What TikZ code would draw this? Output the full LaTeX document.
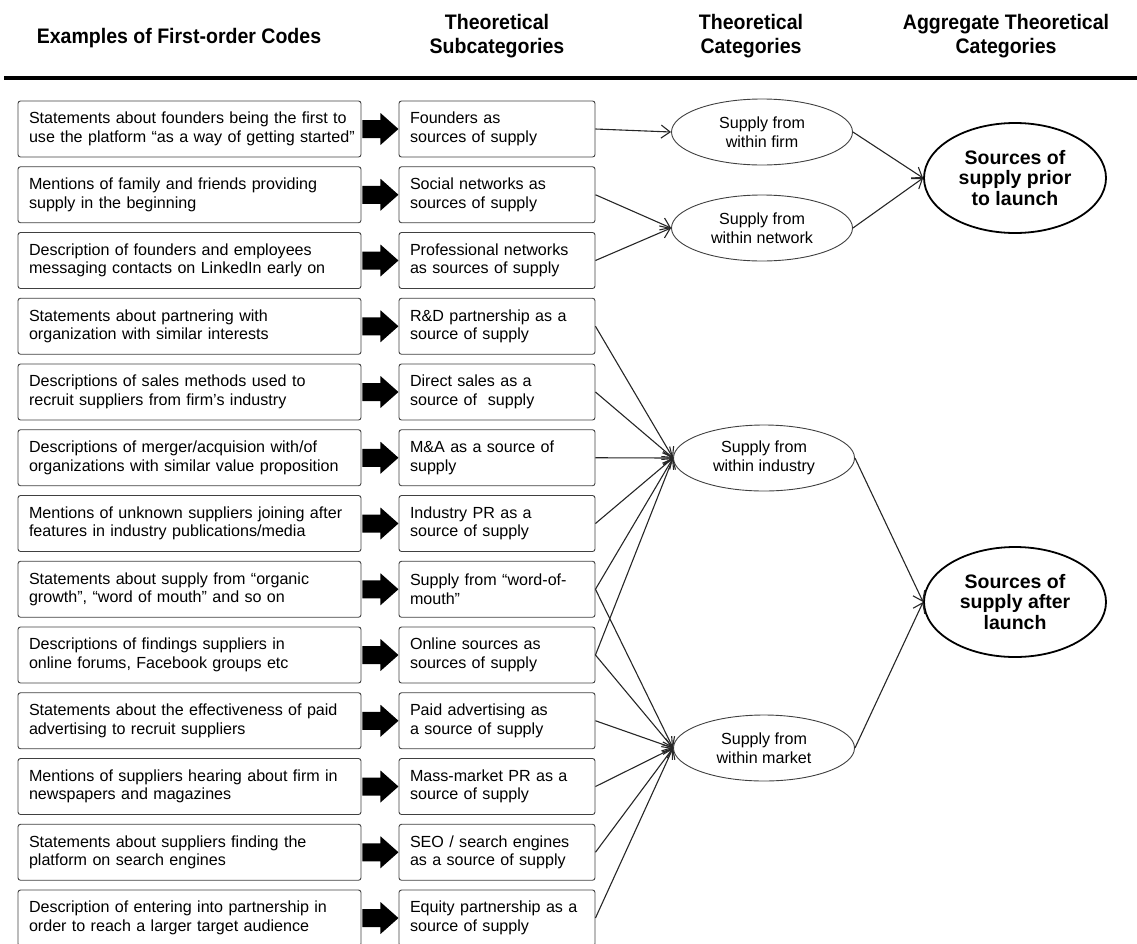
\documentclass[tikz,border=0pt]{standalone}
\usepackage{fontspec}
\setmainfont{Liberation Sans}
\newfontfamily\hdrfont[FakeStretch=0.93]{Liberation Sans}
\usetikzlibrary{arrows.meta,shapes.geometric}
\tikzset{
  boxbase/.style={draw=black!75, line width=0.9pt, rounded corners=2.5pt,
    minimum height=56pt, inner ysep=0pt, inner xsep=11pt, align=left,
    font=\fontsize{16.1}{18.6}\selectfont},
  lbox/.style={boxbase, minimum width=343pt, text width=321pt},
  mbox/.style={boxbase, minimum width=196pt, text width=174pt},
  catell/.style={ellipse, draw=black!75, line width=0.9pt, minimum width=181pt,
    minimum height=66pt, inner sep=0pt, align=center,
    font=\fontsize{16.1}{18.6}\selectfont},
  aggell/.style={ellipse, draw=black, line width=1.8pt, minimum width=182pt,
    minimum height=110pt, inner sep=0pt, align=center,
    font=\bfseries\fontsize{19.5}{20.7}\selectfont},
  hdr/.style={inner sep=0pt, align=center,
    font=\hdrfont\bfseries\fontsize{21}{23.3}\selectfont},
  conn/.style={draw=black!85, line width=1.1pt,
    -{Straight Barb[length=9pt,width=13pt]}},
  bigarrow/.style={fill=black}
}
\newcommand{\mkrow}[4]{%
  \node[lbox] (L#1) at (189.5,#2) {#3};
  \node[mbox] (M#1) at (497,#2) {#4};
  \fill[bigarrow] (L#1.east) ++(1,-9) -- ++(18,0) -- ++(0,-7) -- ++(18,16)
    -- ++(-18,16) -- ++(0,-7) -- ++(-18,0) -- cycle;
}
\begin{document}
\begin{tikzpicture}[x=1pt,y=-1pt]
\useasboundingbox (0,0) rectangle (1137,943);
\clip (0,0) rectangle (1137,943);

% header
\node[hdr] (h1) at (179,38) {Examples of First-order Codes};
\node[hdr] (h2) at (497,36) {Theoretical\\Subcategories};
\node[hdr] (h3) at (751,36) {Theoretical\\Categories};
\node[hdr] (h4) at (1006,36) {Aggregate Theoretical\\Categories};
\coordinate (ruleL) at (4,78);
\coordinate (ruleR) at (1137,78);
\draw[line width=4pt] (ruleL) -- (ruleR);

% rows
\mkrow{1}{129}{Statements about founders being the first to\\\mbox{use the platform “as a way of getting started”}}{Founders as\\sources of supply}
\mkrow{2}{194.75}{Mentions of family and friends providing\\supply in the beginning}{Social networks as\\sources of supply}
\mkrow{3}{260.5}{Description of founders and employees\\messaging contacts on LinkedIn early on}{Professional networks\\as sources of supply}
\mkrow{4}{326.25}{Statements about partnering with\\organization with similar interests}{R\&D partnership as a\\source of supply}
\mkrow{5}{392}{Descriptions of sales methods used to\\recruit suppliers from firm’s industry}{Direct sales as a\\source of \ supply}
\mkrow{6}{457.75}{Descriptions of merger/acquision with/of\\\mbox{organizations with similar value proposition}}{M\&A as a source of\\supply}
\mkrow{7}{523.5}{\mbox{Mentions of unknown suppliers joining after}\\features in industry publications/media}{Industry PR as a\\source of supply}
\mkrow{8}{589.25}{Statements about supply from “organic\\growth”, “word of mouth” and so on}{Supply from “word-of-\\mouth”}
\mkrow{9}{655}{Descriptions of findings suppliers in\\online forums, Facebook groups etc}{Online sources as\\sources of supply}
\mkrow{10}{720.75}{\mbox{Statements about the effectiveness of paid}\\advertising to recruit suppliers}{Paid advertising as\\a source of supply}
\mkrow{11}{786.5}{\mbox{Mentions of suppliers hearing about firm in}\\newspapers and magazines}{Mass-market PR as a\\source of supply}
\mkrow{12}{852.25}{Statements about suppliers finding the\\platform on search engines}{SEO / search engines\\as a source of supply}
\mkrow{13}{918}{\mbox{Description of entering into partnership in}\\order to reach a larger target audience}{Equity partnership as a\\source of supply}

% categories
\node[catell] (firm) at (762,132) {Supply from\\within firm};
\node[catell] (network) at (762,228) {Supply from\\within network};
\node[catell] (industry) at (764,458) {Supply from\\within industry};
\node[catell] (market) at (764,748) {Supply from\\within market};

% aggregate
\node[aggell] (prior) at (1015,178) {Sources of\\supply prior\\to launch};
\node[aggell] (after) at (1015,602) {Sources of\\supply after\\launch};

% connectors
\draw[conn] (M1.east) -- (firm.west);
\draw[conn] (M2.east) -- (network.west);
\draw[conn] (M3.east) -- (network.west);
\foreach \i in {4,...,9} \draw[conn] (M\i.east) -- (industry.west);
\foreach \i in {8,...,13} \draw[conn] (M\i.east) -- (market.west);
\draw[conn] (firm.east) -- (prior.west);
\draw[conn] (network.east) -- (prior.west);
\draw[conn] (industry.east) -- (after.west);
\draw[conn] (market.east) -- (after.west);
\end{tikzpicture}
\end{document}
